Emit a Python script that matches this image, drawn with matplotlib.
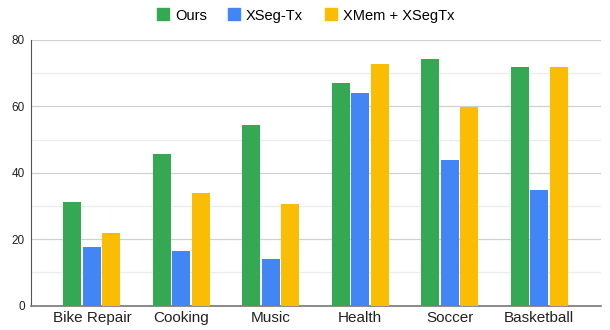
import numpy as np
import matplotlib.pyplot as plt

plt.rcParams['font.family'] = ['Liberation Sans', 'DejaVu Sans']

categories = ['Bike Repair', 'Cooking', 'Music', 'Health', 'Soccer', 'Basketball']
ours = [31.3, 45.5, 54.5, 67.0, 74.2, 71.9]
xseg_tx = [17.5, 16.3, 13.9, 63.9, 43.8, 34.7]
xmem_xsegtx = [21.8, 33.8, 30.7, 72.7, 59.7, 71.9]

series = [('Ours', ours, '#34A853'),
          ('XSeg-Tx', xseg_tx, '#4285F4'),
          ('XMem + XSegTx', xmem_xsegtx, '#FBBC04')]

fig = plt.figure(figsize=(6.1, 3.3), dpi=100)
ax = fig.add_axes([0.051, 0.074, 0.934, 0.805])

x = np.arange(len(categories))
w = 0.2
step = 0.218
for i, (name, vals, col) in enumerate(series):
    ax.bar(x + (i - 1) * step, vals, w, color=col, label=name, zorder=3)

ax.set_xlim(-0.68, 5.69)
ax.set_ylim(0, 80)
ax.set_yticks([0, 20, 40, 60, 80])
ax.set_yticks([10, 30, 50, 70], minor=True)
ax.grid(axis='y', which='major', color='#d0d0d0', linewidth=0.9, zorder=0)
ax.grid(axis='y', which='minor', color='#ececec', linewidth=0.9, zorder=0)
ax.set_xticks(x)
ax.set_xticklabels(categories, fontsize=11, color='#222222')
ax.tick_params(axis='x', length=0, pad=4)
ax.tick_params(axis='y', which='both', length=0, labelsize=8.5, labelcolor='#222222', pad=4.5)
for s in ['top', 'right']:
    ax.spines[s].set_visible(False)
ax.spines['left'].set_color('#555555')
ax.spines['bottom'].set_color('#777777')
ax.spines['bottom'].set_linewidth(1.2)

handles = [plt.Line2D([], [], marker='s', linestyle='', markersize=8, color=c) for _, _, c in series]
fig.legend(handles, [n for n, _, _ in series], loc='center', bbox_to_anchor=(0.5, 0.953),
           ncol=3, frameon=False, fontsize=10.5, handletextpad=0.3, columnspacing=1.4,
           handlelength=1.0)

fig.savefig('out.png', dpi=100)
